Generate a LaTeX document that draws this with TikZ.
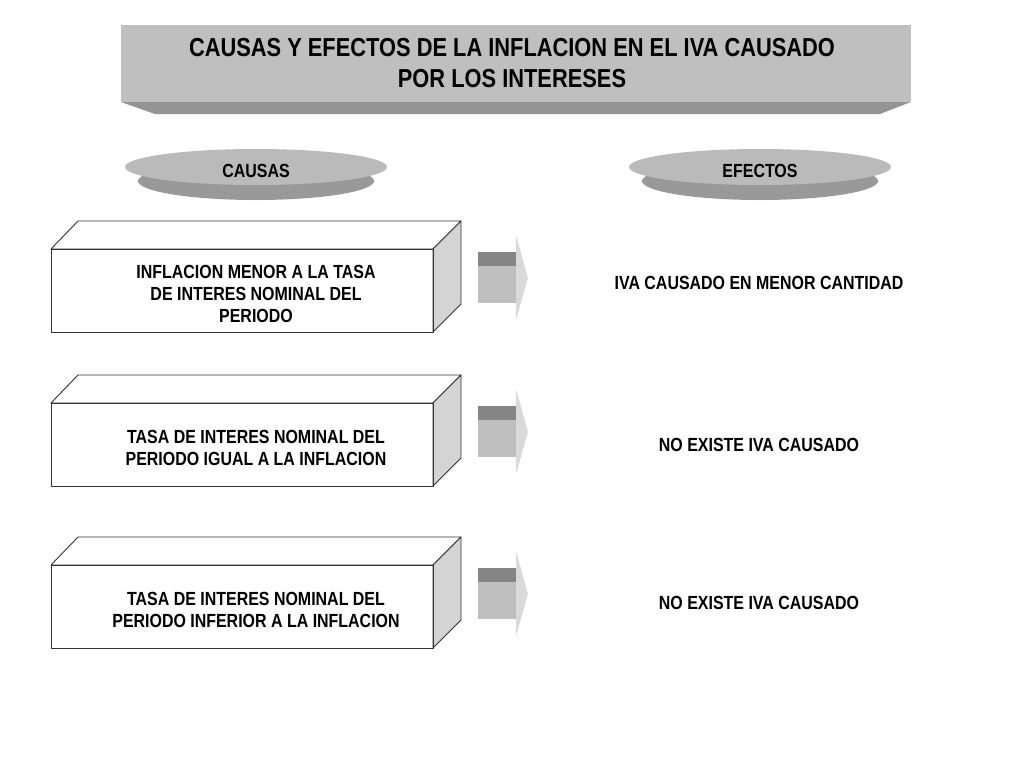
\documentclass[tikz,border=0pt]{standalone}
\usepackage{fontspec}
\setmainfont{Liberation Sans}[FakeStretch=0.84]
\begin{document}
\begin{tikzpicture}[x=1pt,y=-1pt,
  txt/.style={font=\bfseries\fontsize{19}{22}\selectfont,align=center,text=black},
  face/.style={draw=black!80,line width=0.9pt,line join=round}]
\useasboundingbox (0,0) rectangle (1024,768);
% title
\fill[black!42] (121,102) -- (911,102) -- (880,114) -- (155,114) -- cycle;
\fill[black!25] (121,25) rectangle (911,102);
\node[txt,font=\bfseries\fontsize{26}{31}\selectfont] (title) at (512,63) {CAUSAS Y EFECTOS DE LA INFLACION EN EL IVA CAUSADO\\POR LOS INTERESES};
% ellipses
\foreach \cx/\nm/\t in {256/causas/CAUSAS,760/efectos/EFECTOS}{
  \fill[black!40] (\cx,181) ellipse [x radius=118, y radius=19];
  \fill[black!27] (\cx,167) ellipse [x radius=131, y radius=18];
  \node[txt] (\nm) at (\cx,171) {\t};
}
% boxes
\newcommand{\boxx}[3]{%
  \fill[white] (#1,#2) rectangle (#1+382,#2+83);
  \draw[face,fill=white] (#1,#2) -- (#1+27,#2-28) -- (#1+410,#2-28) -- (#1+382,#2) -- cycle;
  \draw[face,fill=black!17] (#1+382,#2) -- (#1+410,#2-28) -- (#1+410,#2+55) -- (#1+382,#2+83) -- cycle;
  \draw[face] (#1,#2) rectangle (#1+382,#2+83);
}
\newcommand{\arr}[1]{%
  \fill[black!25] (478,#1+3) rectangle (516,#1+54);
  \fill[black!48] (478,#1+3) rectangle (516,#1+17);
  \fill[black!15] (516,#1-14) -- (528,#1+29) -- (516,#1+71) -- cycle;
}
\foreach \y in {249,403,565}{ \boxx{51}{\y} \boxx{555}{\y} \arr{\y} }
\node[txt] (c1) at (256,294) {INFLACION MENOR A LA TASA\\DE INTERES NOMINAL DEL\\PERIODO};
\node[txt] (e1) at (759,283) {IVA CAUSADO EN MENOR CANTIDAD};
\node[txt] (c2) at (256,448) {TASA DE INTERES NOMINAL DEL\\PERIODO IGUAL A LA INFLACION};
\node[txt] (e2) at (759,445) {NO EXISTE IVA CAUSADO};
\node[txt] (c3) at (256,610) {TASA DE INTERES NOMINAL DEL\\PERIODO INFERIOR A LA INFLACION};
\node[txt] (e3) at (759,603) {NO EXISTE IVA CAUSADO};
\end{tikzpicture}
\end{document}
